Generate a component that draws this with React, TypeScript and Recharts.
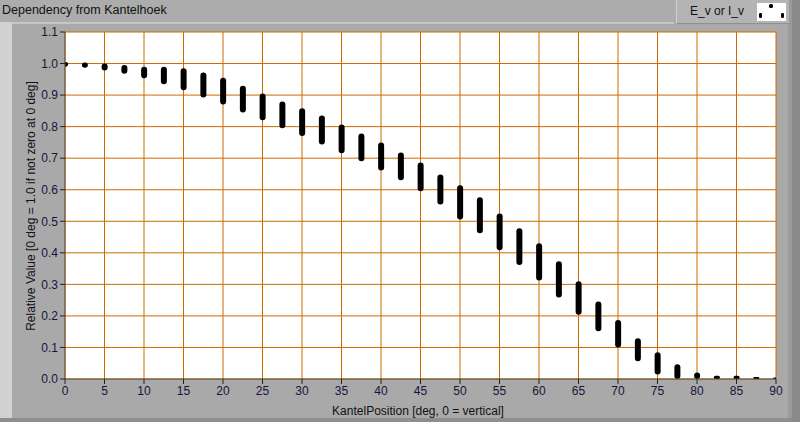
import { Bar, CartesianGrid, ComposedChart, XAxis, YAxis } from 'recharts';

const positions = [
  0, 2.5, 5, 7.5, 10, 12.5, 15, 17.5, 20, 22.5, 25, 27.5, 30, 32.5, 35, 37.5, 40, 42.5, 45,
  47.5, 50, 52.5, 55, 57.5, 60, 62.5, 65, 67.5, 70, 72.5, 75, 77.5, 80, 82.5, 85, 87.5, 90,
];
const lows = [
  0.99, 0.987, 0.978, 0.968, 0.953, 0.934, 0.915, 0.892, 0.87, 0.845, 0.82, 0.795, 0.77, 0.743,
  0.716, 0.69, 0.661, 0.63, 0.595, 0.553, 0.506, 0.462, 0.408, 0.361, 0.312, 0.258, 0.204, 0.151,
  0.1, 0.056, 0.014, 0, 0, 0, 0, 0, 0,
];
const highs = [
  1.005, 1.003, 1.0, 0.995, 0.99, 0.99, 0.985, 0.972, 0.955, 0.93, 0.905, 0.88, 0.858, 0.835,
  0.807, 0.778, 0.75, 0.718, 0.686, 0.648, 0.614, 0.576, 0.525, 0.478, 0.43, 0.373, 0.31, 0.246,
  0.187, 0.129, 0.085, 0.047, 0.021, 0.01, 0.01, 0.006, 0.005,
];
const xTicks = [0, 5, 10, 15, 20, 25, 30, 35, 40, 45, 50, 55, 60, 65, 70, 75, 80, 85, 90];
const yTicks = [0, 0.1, 0.2, 0.3, 0.4, 0.5, 0.6, 0.7, 0.8, 0.9, 1.0, 1.1];

const chartData = positions.map((x, i) => ({ x, range: [lows[i], highs[i]] }));

const font = '"Liberation Sans", Arial, sans-serif';
const tick = { fontSize: 12, fill: '#15153a', fontFamily: font };

export default function App() {
  return (
    <div
      style={{
        position: 'absolute',
        left: 0,
        top: 0,
        width: 800,
        height: 422,
        background: '#acacac',
        overflow: 'hidden',
        fontFamily: font,
      }}
    >
      {/* frame pieces */}
      <div style={{ position: 'absolute', left: 0, top: 22, width: 12, height: 398, background: '#d2d2d2' }} />
      <div style={{ position: 'absolute', left: 12, top: 22, width: 662, height: 2, background: '#c6c6c6' }} />
      <div style={{ position: 'absolute', left: 12, top: 24, width: 776, height: 394, background: '#a9a9a9' }} />
      <div style={{ position: 'absolute', left: 788, top: 0, width: 4, height: 422, background: '#9a9a9a' }} />
      <div style={{ position: 'absolute', left: 792, top: 0, width: 8, height: 422, background: '#8a8a8a' }} />
      <div style={{ position: 'absolute', left: 0, top: 418, width: 792, height: 4, background: '#8e8e8e' }} />

      <div style={{ position: 'absolute', left: 2, top: 3, fontSize: 12.5, color: '#111' }}>
        Dependency from Kantelhoek
      </div>

      {/* legend */}
      <div
        style={{
          position: 'absolute',
          left: 676,
          top: 0,
          width: 112,
          height: 23,
          background: '#b4b4b4',
          borderLeft: '1px solid #d0d0d0',
          borderBottom: '1px solid #909090',
        }}
      >
        <div style={{ position: 'absolute', left: 13, top: 4, fontSize: 12, color: '#111' }}>E_v or I_v</div>
        <svg style={{ position: 'absolute', left: 80, top: 3 }} width={29} height={18}>
          <rect x={0} y={0} width={29} height={18} fill="#fff" />
          <rect x={12} y={1} width={4} height={4} rx={1.5} fill="#000" />
          <rect x={2} y={10} width={3} height={5} rx={1.2} fill="#000" />
          <rect x={24} y={10} width={3} height={5} rx={1.2} fill="#000" />
        </svg>
      </div>

      <div style={{ position: 'absolute', left: 0, top: 0 }}>
        <ComposedChart
          width={800}
          height={422}
          data={chartData}
          margin={{ top: 32, right: 24, left: 20, bottom: 23 }}
        >
          <CartesianGrid
            stroke="#cc6a00"
            strokeWidth={1}
            fill="#ffffff"
            verticalValues={xTicks}
            horizontalValues={yTicks}
          />
          <XAxis
            dataKey="x"
            type="number"
            domain={[0, 90]}
            ticks={xTicks}
            interval={0}
            tick={tick}
            tickSize={5}
            height={20}
            axisLine={{ stroke: '#555' }}
            tickLine={{ stroke: '#222' }}
            allowDataOverflow
          />
          <YAxis
            type="number"
            domain={[0, 1.1]}
            ticks={yTicks}
            interval={0}
            tick={tick}
            tickSize={5}
            width={45}
            tickFormatter={(v: number) => v.toFixed(1)}
            axisLine={{ stroke: '#555' }}
            tickLine={{ stroke: '#222' }}
            allowDataOverflow
          />
          <Bar dataKey="range" fill="#000" barSize={6} radius={3} isAnimationActive={false} />
        </ComposedChart>
      </div>

      <div
        style={{
          position: 'absolute',
          left: 418,
          top: 411,
          transform: 'translate(-50%, -50%)',
          whiteSpace: 'nowrap',
          fontSize: 12,
          color: '#111',
        }}
      >
        KantelPosition [deg, 0 = vertical]
      </div>
      <div
        style={{
          position: 'absolute',
          left: 31,
          top: 206,
          transform: 'translate(-50%, -50%) rotate(-90deg)',
          whiteSpace: 'nowrap',
          fontSize: 12,
          color: '#111',
        }}
      >
        Relative Value [0 deg = 1.0 if not zero at 0 deg]
      </div>
    </div>
  );
}
